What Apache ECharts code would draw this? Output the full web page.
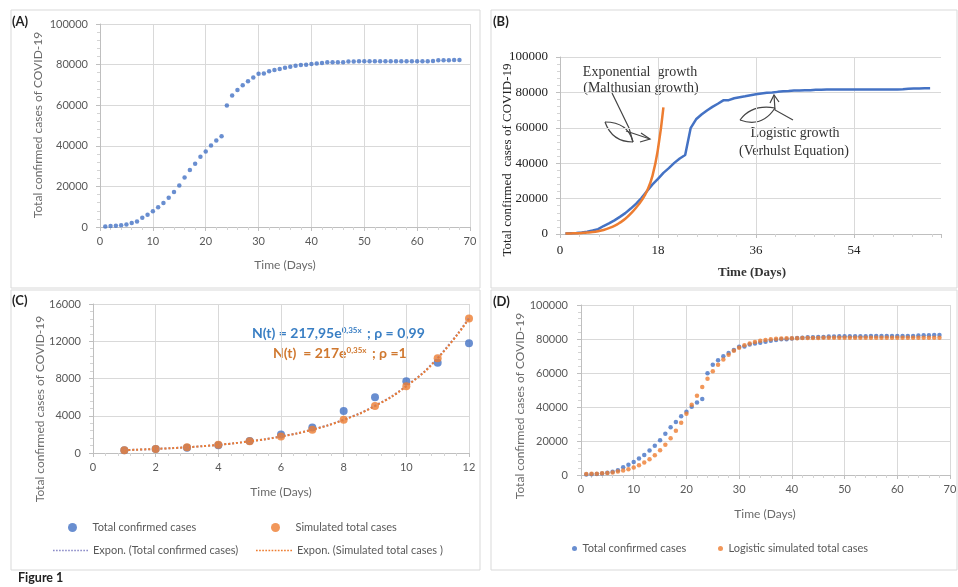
<!DOCTYPE html>
<html><head><meta charset="utf-8">
<script src="https://cdn.jsdelivr.net/npm/echarts@6/dist/echarts.min.js"></script>
<style>html,body{margin:0;padding:0;background:#fff}#c{width:958px;height:587px}</style>
</head><body><div id="c"></div><script>
// ---------- DATA ----------
// Panels A, B (blue) and D (blue): total confirmed cases, day 1..68
const confirmedCases = [291,440,571,830,1287,1975,2744,4515,5974,7711,
  9692,11791,14380,17205,20438,24324,28018,31161,34546,37198,
  40171,42638,44653,59804,64800,67500,69800,71800,73600,75500,
  75600,76700,77300,77800,78400,78900,79400,79800,79900,80300,
  80600,80800,81100,81100,81200,81200,81500,81500,81600,81600,
  81600,81600,81600,81600,81700,81700,81700,81700,81700,81700,
  81700,81700,81800,82100,82200,82200,82300,82300];
const days = confirmedCases.map((_, i) => i + 1);
// Panel D: logistic simulated total cases
const logisticSimulated = [600,700,800,1000,1200,1500,2000,2600,3400,4400,
  5700,7300,9300,11600,14500,17800,21600,26000,30800,36000,
  41300,46600,51800,56600,61000,64800,68000,70800,73100,74900,
  76300,77400,78200,78900,79400,79800,80100,80300,80400,80500,
  80500,80600,80600,80600,80600,80700,80700,80700,80700,80700,
  80700,80700,80700,80800,80800,80800,80800,80800,80800,80800,
  80800,80800,80800,80800,80800,80800,80800,80800];
// Panel B: exponential (Malthusian) growth, day 1..19
const exponentialGrowth = [250,350,450,600,800,1100,1600,2300,3300,4600,
  6400,8600,11500,15000,19000,24500,33000,48000,71500];
// Panel C: first 12 days
const cDays = [1,2,3,4,5,6,7,8,9,10,11,12];
const cConfirmed = [291,440,571,830,1287,1975,2744,4515,5974,7711,9692,11791];
const cSimulated = [300,440,620,880,1250,1770,2510,3560,5050,7170,10170,14430];
const cTrendConfirmed = [310,440,620,880,1250,1780,2520,3580,5080,7200,10220,14500];
const cTrendSimulated = [300,440,620,880,1250,1770,2510,3560,5050,7170,10170,14430];
// axis ranges / tick steps
const daysAxis = {min:0, max:70, step:10};
const daysAxisB = {min:0, max:70, step:18};
const casesAxis = {min:0, max:100000, step:20000};
const cDaysAxis = {min:0, max:12, step:2};
const cCasesAxis = {min:0, max:16000, step:4000};

const seriesNames = {
  confirmed:'Total confirmed cases', simulated:'Simulated total cases',
  expConf:'Expon. (Total confirmed cases)', expSim:'Expon. (Simulated total cases )',
  logistic:'Logistic simulated total cases'
};

// ---------- STYLE ----------
const sans = 'Lato, "Open Sans", sans-serif';
const serif = '"Liberation Serif", "DejaVu Serif", serif';
const gridCol = '#d9d9d9', axisCol = '#bfbfbf', labCol = '#595959';
const blue = '#4472c4', orange = '#ed7d31', trendBlue = '#8c8cc8';
const pairs = (xs, ys) => ys.map((v, i) => [xs[i], v]);
const plain = v => String(v);

function valAxis(gi, r, font, size, color, margin, extra) {
  return Object.assign({
    type:'value', gridIndex:gi, min:r.min, max:r.max, interval:r.step,
    axisLine:{show:true, onZero:false, lineStyle:{color:axisCol, width:1}},
    axisTick:{show:true, length:4, lineStyle:{color:axisCol}},
    minorTick:{show:true, splitNumber:5, length:3, lineStyle:{color:'#d4d4d4'}},
    splitLine:{show:true, lineStyle:{color:gridCol, width:1}},
    minorSplitLine:{show:false},
    axisLabel:{fontFamily:font, fontSize:size, color:color, margin:margin, formatter:plain}
  }, extra || {});
}

function txt(x, y, text, font, fill, align, rot) {
  return {type:'text', x:x, y:y, rotation:rot || 0, silent:true,
    style:{text:text, font:font, fill:fill, textAlign:align||'left', align:align||'left',
      textVerticalAlign:'middle', verticalAlign:'middle'}};
}
function box(x, y, w, h) {
  return {type:'rect', silent:true, shape:{x:x, y:y, width:w, height:h},
    style:{fill:'none', stroke:'#d9d9d9', lineWidth:1}};
}
function pl(points, w) {
  return {type:'polyline', silent:true, shape:{points:points},
    style:{stroke:'#444', lineWidth:w||1.2, fill:'none'}};
}
function bz(x1,y1,cx,cy,x2,y2) {
  return {type:'bezierCurve', silent:true, shape:{x1:x1,y1:y1,cpx1:cx,cpy1:cy,x2:x2,y2:y2},
    style:{stroke:'#444', lineWidth:1.2, fill:'none'}};
}

// dotted-line legend icon (row of small squares)
let dotPath = 'path://';
for (let i = 0; i < 12; i++) dotPath += 'M' + (i * 3) + ',0h1.6v1.6h-1.6z';

const legTxt = {fontFamily:sans, fontSize:11, color:labCol};
function leg(name, left, top, w, h, icon) {
  return {data:[name], left:left, top:top, padding:0, itemWidth:w, itemHeight:h,
    textStyle:legTxt, selectedMode:false, icon:icon};
}

const option = {
  animation:false,
  backgroundColor:'#fff',
  grid:[
    {left:100, top:24, width:370, height:203, containLabel:false, outerBoundsMode:'none'},
    {left:560, top:57, width:381, height:177, containLabel:false, outerBoundsMode:'none'},
    {left:93, top:304, width:376, height:149, containLabel:false, outerBoundsMode:'none'},
    {left:581, top:305, width:369, height:170, containLabel:false, outerBoundsMode:'none'}
  ],
  xAxis:[
    valAxis(0, daysAxis, sans, 11, labCol, 9),
    valAxis(1, daysAxisB, serif, 13, '#222', 10, {
      axisLabel:{fontFamily:serif, fontSize:13, color:'#222', margin:10,
        formatter:v => (v % 18 === 0 ? String(v) : '')},
      splitLine:{show:true, showMaxLine:false, lineStyle:{color:gridCol}}
    }),
    valAxis(2, cDaysAxis, sans, 11, labCol, 9),
    valAxis(3, daysAxis, sans, 11, labCol, 9)
  ],
  yAxis:[
    valAxis(0, casesAxis, sans, 11, labCol, 12),
    valAxis(1, casesAxis, serif, 13, '#222', 12),
    valAxis(2, cCasesAxis, sans, 11, labCol, 12),
    valAxis(3, casesAxis, sans, 11, labCol, 13)
  ],
  legend:[
    leg(seriesNames.confirmed, 68, 522, 30, 9, 'circle'),
    leg(seriesNames.simulated, 271, 522, 30, 9, 'circle'),
    leg(seriesNames.expConf, 53, 545, 35, 14, dotPath),
    leg(seriesNames.expSim, 256, 545, 36, 14, dotPath),
    leg(seriesNames.confirmed, 572, 543, 6, 5, 'circle'),
    leg(seriesNames.logistic, 718, 543, 6, 5, 'circle')
  ],
  series:[
    {type:'scatter', xAxisIndex:0, yAxisIndex:0, data:pairs(days, confirmedCases),
      symbolSize:4.5, itemStyle:{color:blue}, silent:true},
    {type:'line', xAxisIndex:1, yAxisIndex:1, data:pairs(days, confirmedCases),
      symbol:'none', lineStyle:{color:blue, width:2.5}, itemStyle:{color:blue}, silent:true},
    {type:'line', xAxisIndex:1, yAxisIndex:1, data:pairs(days, exponentialGrowth),
      symbol:'none', smooth:true, lineStyle:{color:orange, width:2.5}, itemStyle:{color:orange}, silent:true},
    {name:seriesNames.confirmed, type:'scatter', xAxisIndex:2, yAxisIndex:2, data:pairs(cDays, cConfirmed),
      symbolSize:8, itemStyle:{color:blue}, silent:true},
    {name:seriesNames.simulated, type:'scatter', xAxisIndex:2, yAxisIndex:2, data:pairs(cDays, cSimulated),
      symbolSize:8, itemStyle:{color:orange}, silent:true},
    {name:seriesNames.expConf, type:'line', xAxisIndex:2, yAxisIndex:2, data:pairs(cDays, cTrendConfirmed),
      symbol:'none', smooth:true, lineStyle:{color:trendBlue, width:2, type:'dotted'}, itemStyle:{color:trendBlue}, silent:true},
    {name:seriesNames.expSim, type:'line', xAxisIndex:2, yAxisIndex:2, data:pairs(cDays, cTrendSimulated),
      symbol:'none', smooth:true, lineStyle:{color:orange, width:2, type:'dotted'}, itemStyle:{color:orange}, silent:true},
    {name:seriesNames.confirmed, type:'scatter', xAxisIndex:3, yAxisIndex:3, data:pairs(days, confirmedCases),
      symbolSize:4.5, itemStyle:{color:blue}, silent:true},
    {name:seriesNames.logistic, type:'scatter', xAxisIndex:3, yAxisIndex:3, data:pairs(days, logisticSimulated),
      symbolSize:4.5, itemStyle:{color:orange}, silent:true}
  ],
  graphic:[
    box(11, 10, 469, 278), box(491, 10, 466, 278),
    box(11, 290, 469, 280), box(491, 290, 466, 280),
    txt(12, 22, '(A)', 'bold 13px Lato', '#222'),
    txt(493, 22, '(B)', 'bold 13px Lato', '#222'),
    txt(12, 301, '(C)', 'bold 13px Lato', '#222'),
    txt(493, 302, '(D)', 'bold 13px Lato', '#222'),
    txt(18, 578, 'Figure 1', 'bold 12.5px Lato', '#222'),
    // axis names
    txt(38, 125, 'Total confirmed cases of COVID-19', '12px Lato', '#6b6b6b', 'center', Math.PI/2),
    txt(285, 265, 'Time (Days)', '12px Lato', '#6b6b6b', 'center'),
    txt(508, 160, 'Total confirmed  cases of COVID-19', '13px "Liberation Serif"', '#222', 'center', Math.PI/2),
    txt(752, 273, 'Time (Days)', 'bold 13px "Liberation Serif"', '#333', 'center'),
    txt(40, 409, 'Total confirmed cases of COVID-19', '12px Lato', '#6b6b6b', 'center', Math.PI/2),
    txt(281, 492, 'Time (Days)', '12px Lato', '#6b6b6b', 'center'),
    txt(520, 406, 'Total confirmed cases of COVID-19', '12px Lato', '#6b6b6b', 'center', Math.PI/2),
    txt(765, 514, 'Time (Days)', '12px Lato', '#6b6b6b', 'center'),
    // B annotations
    txt(640, 72, 'Exponential  growth', '14px "Liberation Serif"', '#333', 'center'),
    txt(641, 88, '(Malthusian growth)', '14px "Liberation Serif"', '#333', 'center'),
    txt(795, 133, 'Logistic growth', '14px "Liberation Serif"', '#333', 'center'),
    txt(794, 151, '(Verhulst Equation)', '14px "Liberation Serif"', '#333', 'center'),
    pl([[612,93],[629,128],[633,142]]),
    bz(605,122, 612,142, 633,142),
    bz(605,122, 628,122, 633,142),
    pl([[626,131],[650,139]]),
    pl([[641,133],[650,139],[640,142]]),
    pl([[774,95],[775,110],[793,120]]),
    pl([[770,103],[774,95],[779,102]]),
    bz(740,120, 762,128, 775,108),
    bz(740,120, 752,104, 775,108),
    // C equations
    {type:'text', x:252, y:333, silent:true, style:{
      text:'{a|N(t) = 217,95e}{s|0,35x}{a| ; ρ = 0,99}',
      textVerticalAlign:'middle', verticalAlign:'middle',
      rich:{a:{font:'bold 14px Lato', fill:'#3a7fc4', lineHeight:15, verticalAlign:'middle'},
            s:{font:'bold 8px Lato', fill:'#3a7fc4', lineHeight:15, verticalAlign:'top', padding:[1,2,0,0]}}}},
    {type:'text', x:273, y:353, silent:true, style:{
      text:'{a|N(t)  = 217e}{s|0,35x}{a| ; ρ =1}',
      textVerticalAlign:'middle', verticalAlign:'middle',
      rich:{a:{font:'bold 14px Lato', fill:'#d0782f', lineHeight:15, verticalAlign:'middle'},
            s:{font:'bold 8px Lato', fill:'#d0782f', lineHeight:15, verticalAlign:'top', padding:[1,2,0,0]}}}}
  ]
};
const chart = echarts.init(document.getElementById('c'), null, {renderer:'canvas'});
chart.setOption(option);
</script></body></html>
